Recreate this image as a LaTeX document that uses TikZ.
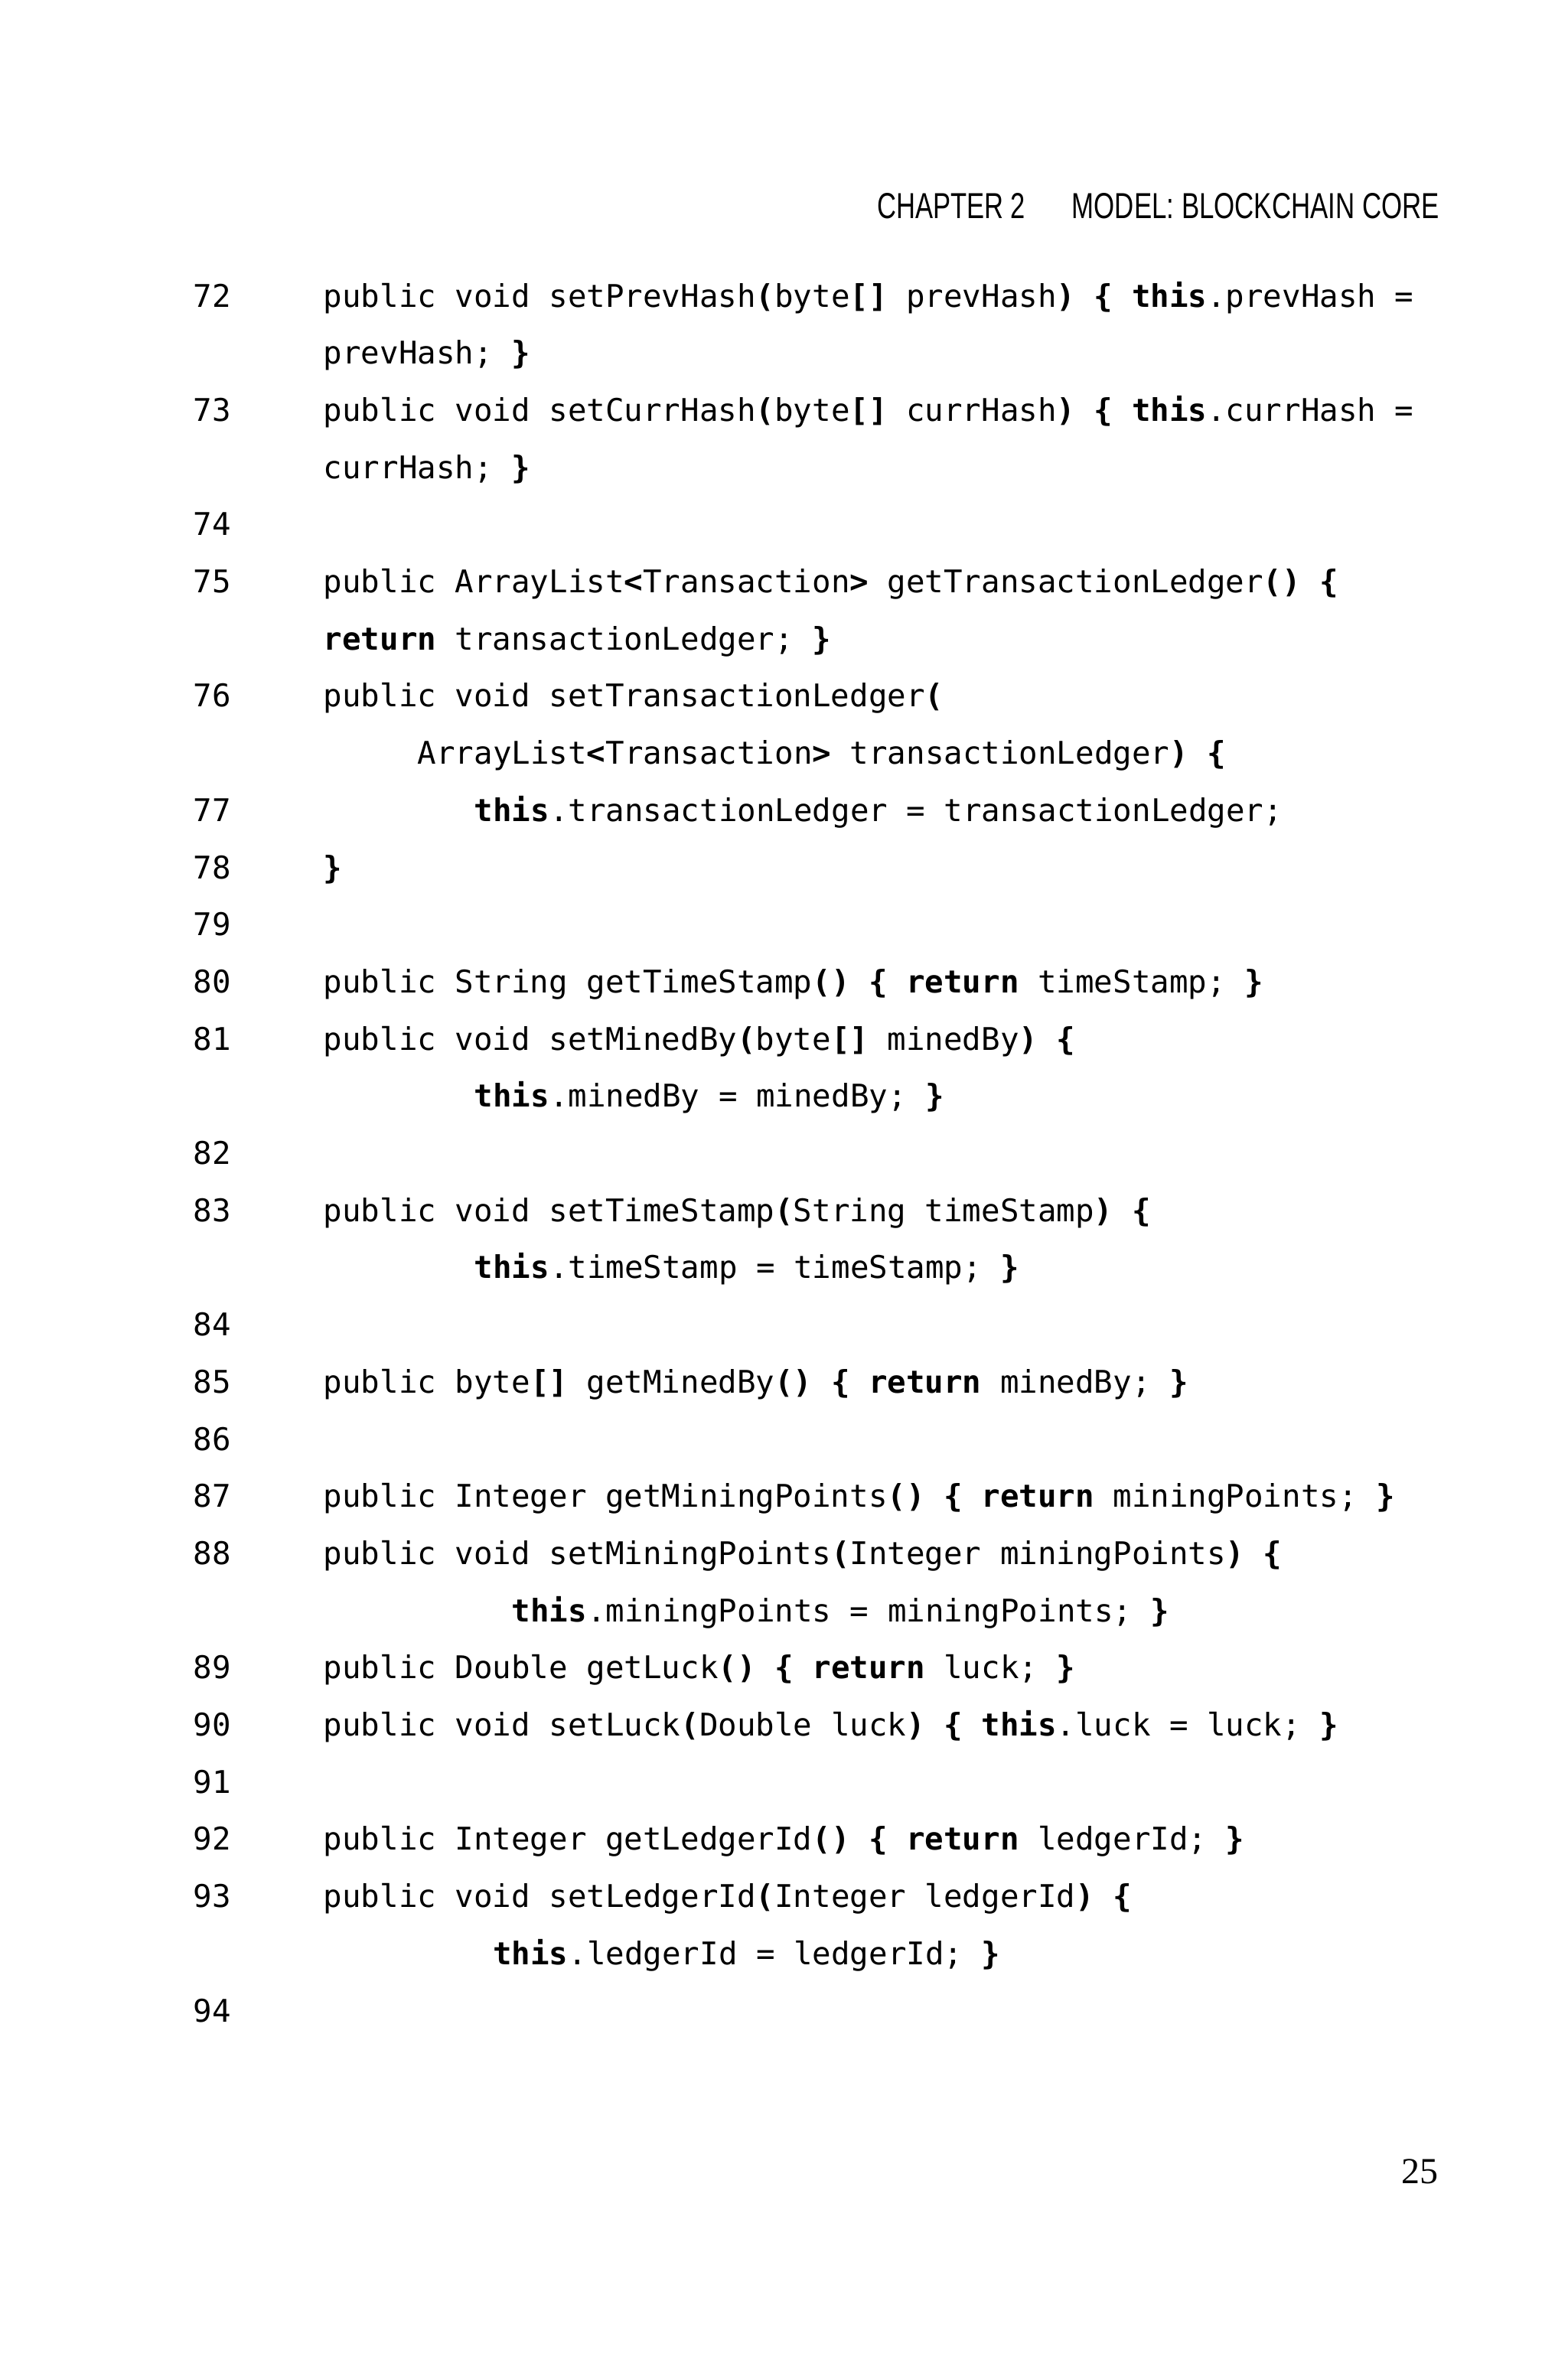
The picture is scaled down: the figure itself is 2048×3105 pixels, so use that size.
\documentclass[tikz,border=0pt]{standalone}
\usepackage{fontspec}
\usepackage{graphicx}
\newfontfamily\codefont{DejaVu Sans Mono}
\newfontfamily\headfont{Liberation Sans}
\newfontfamily\pagefont{Liberation Serif}
\newlength\pxu
\setlength\pxu{0.25pt}
\newcommand\cb[1]{\textbf{#1}}
\tikzset{
  codeline/.style={anchor=base west, inner sep=0pt, font=\codefont\fontsize{10.2pt}{12pt}\selectfont},
  lnum/.style={anchor=base west, inner sep=0pt, font=\codefont\fontsize{10.2pt}{12pt}\selectfont},
  headtext/.style={inner sep=0pt, font=\headfont},
  pagenum/.style={anchor=base east, inner sep=0pt, font=\pagefont\fontsize{12pt}{14pt}\selectfont}
}
\begin{document}
\begin{tikzpicture}[x=0.25pt,y=-0.25pt]
\useasboundingbox[fill=white] (0,0) rectangle (2048,3105);
% header
\node[headtext, anchor=base east] (chap) at (1341,285) {\resizebox{194\pxu}{33\pxu}{CHAPTER 2}};
\node[headtext, anchor=base west] (title) at (1400,285) {\resizebox{480\pxu}{33\pxu}{MODEL: BLOCKCHAIN CORE}};
% line numbers (row baseline = 401 + 74.7*i)
\foreach \n/\r in {72/0,73/2,74/4,75/5,76/7,77/9,78/10,79/11,80/12,81/13,82/15,83/16,84/18,85/19,86/20,87/21,88/22,89/24,90/25,91/26,92/27,93/28,94/30}{
  \node[lnum] (n\n) at (252,{401+74.7*\r}) {\n};
}
% code lines
\node[codeline] (c0) at (422,401) {public void setPrevHash\cb{(}byte\cb{[]} prevHash\cb{)} \cb{\{} \cb{this}.prevHash =};
\node[codeline] (c1) at (422,{401+74.7*1}) {prevHash; \cb{\}}};
\node[codeline] (c2) at (422,{401+74.7*2}) {public void setCurrHash\cb{(}byte\cb{[]} currHash\cb{)} \cb{\{} \cb{this}.currHash =};
\node[codeline] (c3) at (422,{401+74.7*3}) {currHash; \cb{\}}};
\node[codeline] (c5) at (422,{401+74.7*5}) {public ArrayList\cb{<}Transaction\cb{>} getTransactionLedger\cb{()} \cb{\{}};
\node[codeline] (c6) at (422,{401+74.7*6}) {\cb{return} transactionLedger; \cb{\}}};
\node[codeline] (c7) at (422,{401+74.7*7}) {public void setTransactionLedger\cb{(}};
\node[codeline] (c8) at (545,{401+74.7*8}) {ArrayList\cb{<}Transaction\cb{>} transactionLedger\cb{)} \cb{\{}};
\node[codeline] (c9) at (619,{401+74.7*9}) {\cb{this}.transactionLedger = transactionLedger;};
\node[codeline] (c10) at (422,{401+74.7*10}) {\cb{\}}};
\node[codeline] (c12) at (422,{401+74.7*12}) {public String getTimeStamp\cb{()} \cb{\{} \cb{return} timeStamp; \cb{\}}};
\node[codeline] (c13) at (422,{401+74.7*13}) {public void setMinedBy\cb{(}byte\cb{[]} minedBy\cb{)} \cb{\{}};
\node[codeline] (c14) at (619,{401+74.7*14}) {\cb{this}.minedBy = minedBy; \cb{\}}};
\node[codeline] (c16) at (422,{401+74.7*16}) {public void setTimeStamp\cb{(}String timeStamp\cb{)} \cb{\{}};
\node[codeline] (c17) at (619,{401+74.7*17}) {\cb{this}.timeStamp = timeStamp; \cb{\}}};
\node[codeline] (c19) at (422,{401+74.7*19}) {public byte\cb{[]} getMinedBy\cb{()} \cb{\{} \cb{return} minedBy; \cb{\}}};
\node[codeline] (c21) at (422,{401+74.7*21}) {public Integer getMiningPoints\cb{()} \cb{\{} \cb{return} miningPoints; \cb{\}}};
\node[codeline] (c22) at (422,{401+74.7*22}) {public void setMiningPoints\cb{(}Integer miningPoints\cb{)} \cb{\{}};
\node[codeline] (c23) at (668,{401+74.7*23}) {\cb{this}.miningPoints = miningPoints; \cb{\}}};
\node[codeline] (c24) at (422,{401+74.7*24}) {public Double getLuck\cb{()} \cb{\{} \cb{return} luck; \cb{\}}};
\node[codeline] (c25) at (422,{401+74.7*25}) {public void setLuck\cb{(}Double luck\cb{)} \cb{\{} \cb{this}.luck = luck; \cb{\}}};
\node[codeline] (c27) at (422,{401+74.7*27}) {public Integer getLedgerId\cb{()} \cb{\{} \cb{return} ledgerId; \cb{\}}};
\node[codeline] (c28) at (422,{401+74.7*28}) {public void setLedgerId\cb{(}Integer ledgerId\cb{)} \cb{\{}};
\node[codeline] (c29) at (643.5,{401+74.7*29}) {\cb{this}.ledgerId = ledgerId; \cb{\}}};
% page number
\node[pagenum] (page) at (1880,2853) {25};
\end{tikzpicture}
\end{document}
